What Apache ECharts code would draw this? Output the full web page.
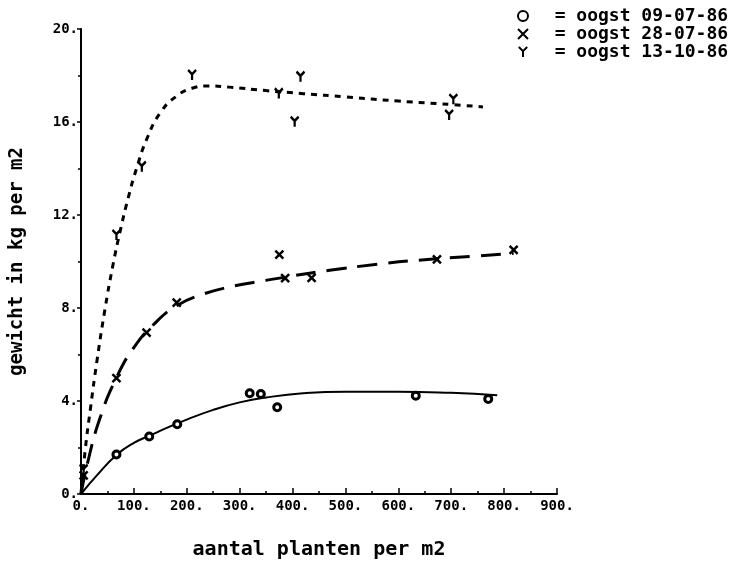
<!DOCTYPE html>
<html>
<head>
<meta charset="utf-8">
<script src="https://cdn.jsdelivr.net/npm/echarts@6/dist/echarts.min.js"></script>
<style>
  html, body { margin: 0; padding: 0; background: #fff; }
  #chart { width: 743px; height: 567px; }
</style>
</head>
<body>
<div id="chart"></div>
<script>
// Opbrengst (kg per m2) bij verschillende plantdichtheden, drie oogstdata
const seriesNames = ['oogst 09-07-86', 'oogst 28-07-86', 'oogst 13-10-86'];
const legendLabels = ['= oogst 09-07-86', '= oogst 28-07-86', '= oogst 13-10-86'];

// waarnemingen: [planten per m2, kg per m2]
const pointsJul09 = [[67, 1.7], [129, 2.47], [182, 3.0], [319, 4.33], [340, 4.3], [371, 3.73], [633, 4.23], [770, 4.09]];
const pointsJul28 = [[5, 0.8], [67, 4.98], [124, 6.94], [181, 8.23], [375, 10.3], [386, 9.28], [436, 9.3], [673, 10.09], [818, 10.5]];
const pointsOct13 = [[5, 1.05], [67, 11.14], [115, 14.08], [210, 18.02], [374, 17.23], [404, 16.01], [415, 17.95], [696, 16.3], [704, 16.98]];

// aangepaste curven
const curveJul09 = [[0, 0], [30, 0.8], [67, 1.68], [100, 2.2], [129, 2.5], [160, 2.82], [200, 3.2], [250, 3.62], [300, 3.94], [350, 4.15], [420, 4.33], [500, 4.4], [600, 4.4], [700, 4.35], [787, 4.25]];
const curveJul28 = [[0, 0], [12, 1.3], [35, 3.2], [67, 5.0], [100, 6.3], [140, 7.35], [181, 8.1], [225, 8.55], [280, 8.9], [340, 9.15], [400, 9.38], [470, 9.62], [560, 9.88], [650, 10.08], [740, 10.22], [818, 10.35]];
const curveOct13 = [[0, 0], [8, 1.9], [18, 3.7], [30, 5.7], [45, 7.9], [60, 9.8], [75, 11.4], [90, 12.8], [105, 14.0], [125, 15.3], [150, 16.4], [180, 17.1], [210, 17.45], [240, 17.55], [280, 17.5], [350, 17.35], [420, 17.22], [500, 17.08], [600, 16.9], [700, 16.75], [760, 16.65]];

const xTicks = { min: 0, max: 900, step: 100 };
const yTicks = { min: 0, max: 20, step: 4 };
const xTitle = 'aantal planten per m2';
const yTitle = 'gewicht in kg per m2';

const FONT = 'DejaVu Sans Mono';
const INK = '#000';

const markerCircle = 'circle';
const markerCross = 'path://M0,0L10,10M10,0L0,10';
const markerY = 'path://M0,0L5,5L10,0M5,5L5,12';

const chart = echarts.init(document.getElementById('chart'), null, { renderer: 'canvas' });

function scatter(name, data, symbol, size, fill, stroke) {
  return {
    type: 'scatter', name: name, data: data, symbol: symbol, symbolSize: size,
    itemStyle: { color: fill, borderColor: INK, borderWidth: stroke, opacity: 1 },
    z: 5
  };
}
function curve(data, dash, width) {
  return {
    type: 'line', data: data, symbol: 'none', smooth: 0.5,
    lineStyle: { color: INK, width: width, type: dash, cap: 'butt' },
    silent: true, z: 4
  };
}

const legendMap = {};
seriesNames.forEach((n, i) => { legendMap[n] = legendLabels[i]; });

chart.setOption({
  animation: false,
  backgroundColor: '#fff',
  grid: { left: 81, right: 186, top: 29, bottom: 73 },
  legend: {
    orient: 'vertical', left: 512, top: 2,
    itemWidth: 10, itemHeight: 10, itemGap: 0,
    data: seriesNames,
    formatter: n => '  ' + legendMap[n],
    textStyle: { fontFamily: FONT, fontWeight: 'bold', fontSize: 18, color: INK, lineHeight: 18 },
    selectedMode: false
  },
  xAxis: {
    type: 'value', min: xTicks.min, max: xTicks.max, interval: xTicks.step,
    name: xTitle, nameLocation: 'middle', nameGap: 46,
    nameTextStyle: { fontFamily: FONT, fontWeight: 'bold', fontSize: 20, color: INK },
    axisLine: { show: true, onZero: false, lineStyle: { color: INK, width: 2 } },
    axisTick: { show: true, inside: true, length: 6, lineStyle: { color: INK, width: 1.5 } },
    minorTick: { show: true, splitNumber: 2, length: 3, lineStyle: { color: INK, width: 1.5 } },
    splitLine: { show: false },
    axisLabel: { formatter: v => v + '.', fontFamily: FONT, fontWeight: 'bold', fontSize: 14, color: INK, margin: 5 }
  },
  yAxis: {
    type: 'value', min: yTicks.min, max: yTicks.max, interval: yTicks.step,
    name: yTitle, nameLocation: 'middle', nameGap: 54, nameRotate: 90,
    nameTextStyle: { fontFamily: FONT, fontWeight: 'bold', fontSize: 19, color: INK },
    axisLine: { show: true, onZero: false, lineStyle: { color: INK, width: 2 } },
    axisTick: { show: true, inside: false, length: 4, lineStyle: { color: INK, width: 1.5 } },
    minorTick: { show: true, splitNumber: 2, length: 3, lineStyle: { color: INK, width: 1.5 } },
    splitLine: { show: false },
    axisLabel: { formatter: v => v + '.', fontFamily: FONT, fontWeight: 'bold', fontSize: 14, color: INK, margin: 3 }
  },
  series: [
    curve(curveJul09, 'solid', 2),
    curve(curveJul28, [20, 11], 3),
    curve(curveOct13, [6, 6], 3),
    scatter(seriesNames[0], pointsJul09, markerCircle, 7, '#fff', 3),
    scatter(seriesNames[1], pointsJul28, markerCross, 8, 'rgba(0,0,0,0)', 2.5),
    scatter(seriesNames[2], pointsOct13, markerY, [8, 10], 'rgba(0,0,0,0)', 2.5)
  ]
});
</script>
</body>
</html>
